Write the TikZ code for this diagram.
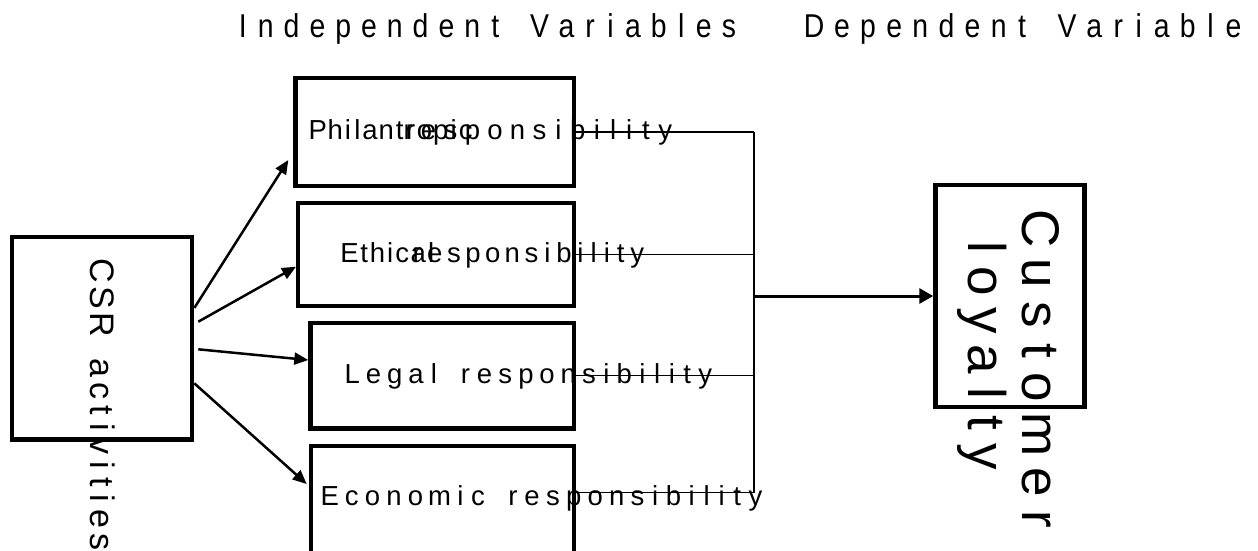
\documentclass[tikz,border=0pt]{standalone}
\usepackage{fontspec}
\usetikzlibrary{arrows.meta}
\newfontfamily\hdrfont[FakeStretch=0.86]{Liberation Sans}
\newfontfamily\boxfont{Liberation Sans}
\newfontfamily\bigfont{Liberation Sans}
\def\sfac{0.7}
\newcommand\spreadtext[2]{\hbox to #1{\spreadA#2\relax}}
\def\spreadA#1{\makebox[\sfac\width]{#1}\spreadB}
\def\spreadB#1{\ifx#1\relax\else\hfil\makebox[\sfac\width]{#1}\expandafter\spreadB\fi}
\begin{document}
\begin{tikzpicture}[x=1pt,y=-1pt,
  box/.style={draw, line width=4.5pt, inner sep=0pt, outer sep=2.25pt, rectangle},
  txt/.style={anchor=base west, inner sep=0pt, outer sep=0pt},
  rtxt/.style={txt, rotate=-90},
  feed/.style={line width=2.5pt, -{Triangle[length=14pt,width=12pt]}},
  bus/.style={line width=1.4pt},
  mainarrow/.style={line width=3pt, -{Triangle[length=14pt,width=15pt]}}]
\fill[white] (0,0) rectangle (1258,550);
\useasboundingbox (0,0) rectangle (1258,550);

% headers
\node[txt] (hind) at (240,37.3) {\hdrfont\fontsize{33}{36}\selectfont\spreadtext{494pt}{Independent~Variables}};
\node[txt] (hdep) at (807,37.3) {\hdrfont\fontsize{33}{36}\selectfont\spreadtext{432pt}{Dependent~Variable}};

% boxes
\node[box, minimum width=278.7pt, minimum height=108pt] (phil) at (434.65,132) {};
\node[box, minimum width=276pt, minimum height=103pt] (eth) at (436,254.5) {};
\node[box, minimum width=263.5pt, minimum height=105.5pt] (legal) at (442.25,375.75) {};
\node[box, minimum width=263pt, minimum height=110pt] (econ) at (442.5,501) {};
\node[box, minimum width=180pt, minimum height=202.7pt] (csr) at (102,338.35) {};
\node[box, minimum width=149pt, minimum height=222pt] (cust) at (1010,296) {};

% box texts
\node[txt] (philA) at (311,139.3) {\def\sfac{0.75}\boxfont\fontsize{27.5}{30}\selectfont\spreadtext{160pt}{Philantropic}};
\node[txt] (philB) at (405,139.3) {\boxfont\fontsize{27.5}{30}\selectfont\spreadtext{265pt}{responsibility}};
\node[txt] (ethA) at (341.7,262.3) {\def\sfac{0.85}\boxfont\fontsize{27.5}{30}\selectfont\spreadtext{92pt}{Ethical}};
\node[txt] (ethB) at (414,262.3) {\boxfont\fontsize{27.5}{30}\selectfont\spreadtext{228pt}{responsibility}};
\node[txt] (legalT) at (347,383.3) {\boxfont\fontsize{27.5}{30}\selectfont\spreadtext{363pt}{Legal~responsibility}};
\node[txt] (econT) at (323.3,505) {\boxfont\fontsize{27.5}{30}\selectfont\spreadtext{437pt}{Economic~responsibility}};
\node[rtxt] (csrT) at (90,261.7) {\boxfont\fontsize{34}{36}\selectfont\spreadtext{286pt}{CSR~activities}};
\node[rtxt] (custA) at (1022,215) {\bigfont\fontsize{53}{56}\selectfont\spreadtext{311pt}{Customer}};
\node[rtxt] (custB) at (968.5,243) {\bigfont\fontsize{53}{56}\selectfont\spreadtext{223pt}{loyalty}};

% bus lines
\coordinate (bt) at (754,132);
\coordinate (bb) at (754,492.7);
\coordinate (bm) at (755,296);
\draw[bus] (phil.east) -- (bt);
\draw[bus] (eth.east) -- (eth.east -| bt);
\draw[bus] (legal.east) -- (legal.east -| bt);
\draw[bus] (econ.east |- bb) -- (bb);
\draw[bus] (bt) -- (bb);
\draw[mainarrow] (bm) -- (cust.west);

% CSR arrows
\coordinate (s1) at (194.3,308);
\coordinate (t1) at (288.3,160);
\coordinate (s2) at (198.3,321.7);
\coordinate (t2) at (296,266.7);
\coordinate (s3) at (198.3,349.3);
\coordinate (t3) at (308.3,360);
\coordinate (s4) at (194.3,383.3);
\coordinate (t4) at (306.7,484);
\draw[feed] (s1) -- (t1);
\draw[feed] (s2) -- (t2);
\draw[feed] (s3) -- (t3);
\draw[feed] (s4) -- (t4);
\end{tikzpicture}
\end{document}
